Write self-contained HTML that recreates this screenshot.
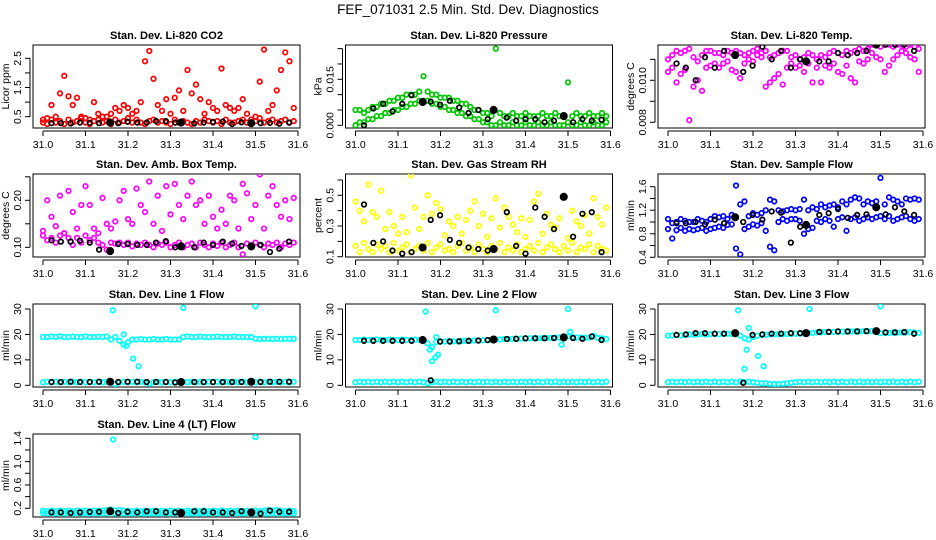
<!DOCTYPE html>
<html><head><meta charset="utf-8"><style>
html,body{margin:0;padding:0;background:#fff;}
svg{display:block;font-family:"Liberation Sans",sans-serif;}
</style></head><body>
<svg id="chart" width="936" height="540" viewBox="0 0 936 540" xmlns="http://www.w3.org/2000/svg">
<text x="468" y="14" text-anchor="middle" font-size="13.5" fill="#000">FEF_071031  2.5 Min. Std. Dev. Diagnostics</text>
</svg>
<script>
const xs=[31.00,31.01,31.02,31.03,31.04,31.05,31.06,31.07,31.08,31.09,31.10,31.11,31.12,31.13,31.14,31.15,31.16,31.17,31.18,31.19,31.20,31.21,31.22,31.23,31.24,31.25,31.26,31.27,31.28,31.29,31.30,31.31,31.32,31.33,31.34,31.35,31.36,31.37,31.38,31.39,31.40,31.41,31.42,31.43,31.44,31.45,31.46,31.47,31.48,31.49,31.50,31.51,31.52,31.53,31.54,31.55,31.56,31.57,31.58,31.59];
const bx=[31.020,31.042,31.065,31.087,31.110,31.132,31.158,31.177,31.199,31.222,31.244,31.266,31.289,31.311,31.325,31.356,31.378,31.400,31.423,31.445,31.467,31.490,31.512,31.534,31.556,31.579];
const bigIdx=[6,14,21];

const co2A=[0.3,0.25,0.4,0.3,0.35,0.25,0.4,0.3,0.35,0.45,0.3,0.25,0.35,0.4,0.3,0.35,0.25,0.4,0.3,0.35,0.45,0.3,0.4,0.3,0.25,0.35,0.4,0.3,0.35,0.3,0.25,0.4,0.3,0.35,0.3,0.25,0.35,0.3,0.4,0.35,0.3,0.35,0.25,0.4,0.3,0.3,0.35,0.4,0.3,0.25,0.35,0.45,0.3,0.35,0.4,0.3,0.35,0.4,0.3,0.35];
const co2B=[0.4,0.45,0.9,0.5,1.3,1.9,1.2,0.9,1.15,0.5,0.45,0.4,1.0,0.6,0.5,0.5,0.6,0.8,0.7,0.9,0.8,0.6,0.7,1.0,2.4,2.75,1.8,0.9,0.7,1.1,0.6,1.15,1.4,0.7,2.1,1.3,1.6,1.1,0.6,1.0,0.8,0.7,2.15,0.9,0.8,0.7,0.8,1.1,0.6,0.4,0.5,1.7,2.8,0.7,0.9,1.4,2.1,2.7,2.4,0.8];
const co2K=[0.28,0.28,0.27,0.3,0.29,0.28,0.3,0.28,0.33,0.3,0.3,0.35,0.35,0.3,0.3,0.27,0.3,0.32,0.33,0.25,0.31,0.28,0.28,0.29,0.26,0.3];

const presA=[0.000,0.001,0.001,0.002,0.002,0.003,0.003,0.004,0.004,0.005,0.005,0.006,0.006,0.007,0.007,0.008,0.008,0.008,0.007,0.007,0.006,0.006,0.005,0.005,0.004,0.004,0.003,0.003,0.002,0.002,0.001,0.001,0.000,0.000,0.001,0.000,0.000,0.001,0.000,0.000,0.001,0.000,0.000,0.001,0.000,0.000,0.001,0.000,0.000,0.000,0.001,0.000,0.000,0.001,0.000,0.000,0.001,0.000,0.000,0.001];
const presB=[0.005,0.005,0.004,0.005,0.006,0.006,0.007,0.007,0.008,0.008,0.009,0.009,0.010,0.010,0.010,0.011,0.016,0.011,0.010,0.010,0.009,0.009,0.009,0.008,0.008,0.007,0.007,0.006,0.005,0.005,0.004,0.004,0.003,0.025,0.004,0.003,0.003,0.004,0.003,0.003,0.004,0.003,0.003,0.003,0.004,0.003,0.003,0.004,0.003,0.003,0.014,0.003,0.004,0.003,0.003,0.004,0.003,0.003,0.004,0.003];
const presK=[0.000,0.0055,0.0070,0.0045,0.0070,0.0098,0.0076,0.0077,0.0067,0.0080,0.0058,0.0040,0.0050,0.0020,0.0050,0.0025,0.0015,0.0020,0.0020,0.0010,0.0015,0.0030,0.0010,0.0020,0.0015,0.0018];

const tempA=[0.0104,0.0106,0.0099,0.0103,0.0105,0.0081,0.0097,0.0100,0.0095,0.0106,0.0107,0.0108,0.0106,0.0108,0.0109,0.0105,0.0104,0.0101,0.0108,0.0110,0.0109,0.0112,0.0111,0.0097,0.0099,0.0101,0.0103,0.0098,0.0106,0.0108,0.0106,0.0107,0.0104,0.0108,0.0099,0.0106,0.0099,0.0107,0.0106,0.0108,0.0104,0.0103,0.0107,0.0101,0.0099,0.0109,0.0108,0.0110,0.0113,0.0111,0.0110,0.0104,0.0107,0.0110,0.0112,0.0114,0.0113,0.0111,0.0110,0.0104];
const tempB=[0.0110,0.0112,0.0114,0.0113,0.0114,0.0115,0.0111,0.0109,0.0112,0.0114,0.0114,0.0113,0.0113,0.0112,0.0114,0.0113,0.0114,0.0113,0.0112,0.0113,0.0114,0.0115,0.0113,0.0114,0.0111,0.0112,0.0113,0.0114,0.0114,0.0111,0.0112,0.0110,0.0111,0.0113,0.0112,0.0110,0.0112,0.0111,0.0113,0.0114,0.0113,0.0112,0.0114,0.0113,0.0114,0.0115,0.0114,0.0115,0.0117,0.0117,0.0116,0.0117,0.0117,0.0116,0.0117,0.0117,0.0116,0.0117,0.0116,0.0115];
const tempK=[0.0108,0.0106,0.0100,0.0111,0.0106,0.0114,0.0112,0.0104,0.0107,0.0116,0.0110,0.0114,0.0106,0.0110,0.0109,0.0109,0.0109,0.0113,0.0112,0.0113,0.0114,0.0117,0.0117,0.0117,0.0117,0.0114];

const ambA=[0.125,0.115,0.12,0.11,0.125,0.13,0.12,0.105,0.12,0.11,0.125,0.115,0.12,0.11,0.105,0.095,0.11,0.108,0.11,0.105,0.11,0.102,0.108,0.105,0.11,0.105,0.1,0.108,0.105,0.11,0.1,0.105,0.11,0.1,0.105,0.108,0.1,0.11,0.105,0.1,0.108,0.103,0.11,0.1,0.105,0.11,0.1,0.085,0.108,0.1,0.11,0.105,0.1,0.108,0.105,0.11,0.1,0.108,0.105,0.11];
const ambB=[0.135,0.2,0.165,0.145,0.21,0.13,0.22,0.175,0.14,0.19,0.23,0.19,0.14,0.13,0.205,0.15,0.14,0.155,0.2,0.22,0.16,0.15,0.225,0.19,0.175,0.24,0.15,0.21,0.135,0.23,0.17,0.235,0.19,0.16,0.21,0.24,0.19,0.2,0.15,0.21,0.165,0.14,0.18,0.15,0.21,0.2,0.14,0.235,0.215,0.16,0.19,0.255,0.14,0.21,0.23,0.19,0.165,0.2,0.16,0.205];
const ambK=[0.115,0.112,0.112,0.114,0.110,0.095,0.092,0.107,0.107,0.105,0.105,0.110,0.113,0.100,0.102,0.100,0.110,0.105,0.112,0.108,0.103,0.102,0.105,0.090,0.097,0.112];

const rhA=[0.17,0.13,0.19,0.15,0.13,0.18,0.15,0.17,0.13,0.19,0.14,0.16,0.18,0.13,0.15,0.17,0.14,0.19,0.13,0.16,0.18,0.14,0.15,0.13,0.17,0.19,0.14,0.16,0.13,0.18,0.15,0.13,0.17,0.15,0.19,0.13,0.16,0.14,0.18,0.13,0.15,0.17,0.14,0.19,0.13,0.16,0.18,0.15,0.13,0.17,0.14,0.19,0.13,0.16,0.15,0.18,0.13,0.17,0.15,0.14];
const rhB=[0.46,0.4,0.33,0.57,0.39,0.36,0.53,0.28,0.39,0.3,0.25,0.36,0.26,0.63,0.42,0.28,0.36,0.5,0.38,0.45,0.41,0.24,0.33,0.3,0.36,0.25,0.34,0.4,0.46,0.3,0.38,0.23,0.35,0.48,0.29,0.42,0.36,0.31,0.26,0.35,0.23,0.34,0.46,0.51,0.25,0.38,0.31,0.29,0.35,0.49,0.22,0.4,0.33,0.3,0.37,0.25,0.48,0.36,0.31,0.42];
const rhK=[0.44,0.19,0.2,0.14,0.12,0.13,0.16,0.34,0.37,0.21,0.19,0.16,0.15,0.14,0.15,0.39,0.17,0.12,0.42,0.36,0.28,0.49,0.23,0.38,0.39,0.13];

const flowA=[0.88,0.72,0.86,0.9,0.85,0.88,0.86,0.88,0.9,0.85,0.88,0.9,0.92,0.9,0.95,0.96,0.55,0.45,0.88,0.92,0.96,0.94,0.98,0.85,0.58,0.52,1.0,1.05,1.02,1.05,1.05,1.02,0.8,0.88,0.9,1.02,1.0,1.05,1.02,0.92,1.05,1.08,0.85,1.05,1.08,1.02,1.05,1.08,1.05,1.08,1.1,1.05,1.1,1.02,1.05,1.08,1.1,1.05,1.02,1.05];
const flowB=[1.05,0.98,1.0,1.05,1.02,1.0,1.0,1.05,1.02,1.0,1.05,1.1,1.08,1.1,1.05,1.12,1.62,1.3,1.35,1.1,1.15,1.12,1.15,1.2,1.38,1.35,1.2,1.18,1.2,1.22,1.2,1.22,1.38,1.2,1.25,1.22,1.3,1.25,1.28,1.3,1.25,1.35,1.3,1.38,1.42,1.4,1.3,1.35,1.32,1.35,1.75,1.3,1.42,1.38,1.35,1.3,1.4,1.38,1.4,1.38];
const flowK=[0.98,0.98,1.0,0.96,1.04,0.98,1.08,1.0,1.12,1.04,1.18,1.16,0.65,0.92,0.95,1.12,1.15,1.22,1.07,1.12,1.13,1.25,1.13,1.25,1.18,1.12];

const l1Hi=[19,19,19.2,19,19.3,19,19,19.2,19,19,19.2,19,19,19.1,19,19.2,18,19,17.5,16,17,18,18,18.2,18,18,18.2,18,18,18.2,18,18,18,19,19.2,19,19,19.2,19,19,19,19.2,19,19,19,19.2,19,19,19,19,18.3,18.2,18.3,18.3,18.2,18.3,18.2,18.3,18.3,18.3];
const l1Lo=[1.2,1.4,1.2,1.4,1.2,1.4,1.2,1.4,1.2,1.4,1.2,1.4,1.2,1.4,1.2,1.4,1.2,0.5,1.2,1.4,1.2,1.4,1.2,1.4,1.2,0.6,1.2,1.4,1.2,1.4,1.2,1.4,1.2,1.4,1.2,1.4,1.2,1.4,1.2,1.4,1.2,1.4,1.2,1.4,1.2,1.4,1.2,1.4,1.2,1.4,1.2,1.4,1.2,1.4,1.2,1.4,1.2,1.4,1.2,1.4];
const l1OutX=[31.164,31.19,31.196,31.212,31.225,31.33,31.5];
const l1OutY=[29.5,20,15.5,10.5,7.5,30.5,31];
const l1K=[1.3,1.3,1.4,1.3,1.3,1.4,1.4,1.3,1.4,1.4,1.3,1.3,1.3,1.1,1.3,1.3,1.3,1.3,1.3,1.3,1.3,1.4,1.3,1.4,1.4,1.4];

const l2Hi=[17.8,17.8,18,17.8,17.8,18,17.8,17.8,18,17.8,17.8,18,17.8,17.8,18,17.8,17.8,16.5,15,17,17.2,17.2,17.4,17.3,17.3,17.4,17.5,17.5,17.6,17.6,17.7,17.7,17.9,18,18,18.2,18.2,18.3,18.3,18.4,18.4,18.5,18.5,18.5,18.6,18.6,18.7,18.8,18.8,19,19.2,19,18.8,18.8,18.7,18.8,19.5,18.6,18.5,18.2];
const l2Lo=[1.2,1.4,1.2,1.4,1.2,1.4,1.2,1.4,1.2,1.4,1.2,1.4,1.2,1.4,1.2,1.4,1.2,0.8,1.2,1.4,1.2,1.4,1.2,1.4,1.2,1.4,1.2,1.4,1.2,1.4,1.2,1.4,1.2,1.4,1.2,1.4,1.2,1.4,1.2,1.4,1.2,1.4,1.2,1.4,1.2,1.4,1.2,1.4,1.2,1.4,1.2,1.4,1.2,1.4,1.2,1.4,1.2,1.4,1.2,1.4];
const l2OutX=[31.165,31.175,31.18,31.188,31.194,31.19,31.33,31.5,31.505,31.485];
const l2OutY=[29,14,9.5,11,12,19,29.5,30,21,16];
const l2K=[17.5,17.5,17.5,17.5,17.5,17.5,17.8,2,17.2,17.2,17.3,17.5,17.6,17.8,18,18.2,18.3,18.5,18.5,18.5,18.6,18.8,18.6,18.3,19.2,17.8];

const l3Hi=[19.5,19.6,19.8,19.6,19.8,20,19.9,20,20.2,20,20.1,20.2,20.1,20.2,20.3,20.2,20.4,19.5,18.5,18,19,19.5,19.8,19.9,20,20,20.1,20.1,20.2,20.2,20.3,20.3,20.4,20.5,20.6,20.8,20.8,20.9,21,21,21,21.1,21.1,21.2,21.2,21.2,21.3,21.3,21.3,21.4,20.5,20.6,20.6,20.7,20.7,20.8,20.8,20.9,20.8,20.6];
const l3Lo=[1.2,1.4,1.2,1.4,1.2,1.4,1.2,1.4,1.2,1.4,1.2,1.4,1.2,1.4,1.2,1.4,1.2,1.5,1.2,1.4,1.2,1.0,0.8,0.8,0.6,0.5,0.5,0.6,0.8,1.0,1.2,1.4,1.2,1.4,1.2,1.4,1.2,1.4,1.2,1.4,1.2,1.4,1.2,1.4,1.2,1.4,1.2,1.4,1.2,1.4,1.2,1.4,1.2,1.4,1.2,1.4,1.2,1.4,1.2,1.4];
const l3OutX=[31.165,31.19,31.185,31.18,31.212,31.225,31.333,31.5];
const l3OutY=[29.5,22.5,14,6.5,11.5,7.5,30,31];
const l3K=[19.8,20.0,20.5,20.5,20.3,20.3,20.5,1,19.8,20,20.3,20.3,20.5,20.5,20.5,21,21,21.2,21.2,21.2,21.3,21.3,20.8,20.8,20.9,20.3];

const ltA=[0.12,0.11,0.12,0.11,0.12,0.11,0.12,0.11,0.12,0.11,0.12,0.11,0.12,0.11,0.12,0.11,0.13,0.11,0.12,0.11,0.12,0.11,0.12,0.11,0.12,0.11,0.12,0.11,0.12,0.11,0.12,0.11,0.12,0.11,0.12,0.11,0.12,0.11,0.12,0.11,0.12,0.11,0.12,0.11,0.12,0.11,0.12,0.11,0.12,0.11,0.12,0.11,0.12,0.11,0.12,0.11,0.12,0.11,0.12,0.11];
const ltB=[0.16,0.15,0.16,0.15,0.16,0.15,0.16,0.15,0.16,0.15,0.16,0.15,0.16,0.16,0.16,0.17,0.18,0.16,0.17,0.16,0.16,0.15,0.16,0.15,0.16,0.15,0.16,0.15,0.16,0.15,0.16,0.15,0.16,0.15,0.16,0.15,0.16,0.15,0.16,0.15,0.16,0.15,0.16,0.15,0.16,0.15,0.16,0.15,0.16,0.15,0.16,0.15,0.16,0.17,0.16,0.17,0.16,0.15,0.16,0.15];
const ltOutX=[31.165,31.5];
const ltOutY=[1.38,1.42];
const ltK=[0.13,0.13,0.12,0.13,0.14,0.14,0.15,0.12,0.14,0.13,0.15,0.15,0.13,0.13,0.12,0.15,0.15,0.13,0.13,0.12,0.15,0.13,0.11,0.16,0.14,0.14];

const xTicks=[31.0,31.1,31.2,31.3,31.4,31.5,31.6];
const xTickLabels=["31.0","31.1","31.2","31.3","31.4","31.5","31.6"];

const svg=document.getElementById('chart');
const NS='http://www.w3.org/2000/svg';
function mk(tag,attrs,parent){const e=document.createElementNS(NS,tag);for(const k in attrs)e.setAttribute(k,attrs[k]);(parent||svg).appendChild(e);return e;}

const panels=[
 {key:'co2',title:'Stan. Dev. Li-820 CO2',ylab:'Licor ppm',col:0,row:0,color:'#ff0000',r:[0.5,116.7,2.5,58.3],ticks:[0.5,1,1.5,2,2.5],labs:{0.5:'0.5',1.5:'1.5',2.5:'2.5'},series:[[xs,co2A],[xs,co2B]],k:co2K},
 {key:'pressure',title:'Stan. Dev. Li-820 Pressure',ylab:'kPa',col:1,row:0,color:'#00c800',r:[0,125.3,0.015,79.3],ticks:[0,0.005,0.01,0.015,0.02,0.025],labs:{0:'0.000',0.015:'0.015'},series:[[xs,presA],[xs,presB]],k:presK},
 {key:'temp',title:'Stan. Dev. Li-820 Temp.',ylab:'degrees C',col:2,row:0,color:'#ff00ff',r:[0.010,80.3,0.008,122.3],ticks:[0.008,0.009,0.010,0.011],labs:{0.008:'0.008',0.01:'0.010'},series:[[xs,tempA],[xs,tempB]],k:tempK},
 {key:'amb',title:'Stan. Dev. Amb. Box Temp.',ylab:'degrees C',col:0,row:1,color:'#ff00ff',r:[0.10,247.3,0.20,200.3],ticks:[0.10,0.15,0.20,0.25],labs:{0.1:'0.10',0.2:'0.20'},series:[[xs,ambA],[xs,ambB]],k:ambK},
 {key:'rh',title:'Stan. Dev. Gas Stream RH',ylab:'percent',col:1,row:1,color:'#ffff00',r:[0.1,256.7,0.5,195.3],ticks:[0.1,0.2,0.3,0.4,0.5,0.6],labs:{0.1:'0.1',0.3:'0.3',0.5:'0.5'},series:[[xs,rhA],[xs,rhB]],k:rhK},
 {key:'sample',title:'Stan. Dev. Sample Flow',ylab:'ml/min',col:2,row:1,color:'#0000ff',r:[0.4,257.3,1.6,186.7],ticks:[0.4,0.6,0.8,1.0,1.2,1.4,1.6],labs:{0.4:'0.4',0.8:'0.8',1.2:'1.2',1.6:'1.6'},series:[[xs,flowA],[xs,flowB]],k:flowK},
 {key:'line1',title:'Stan. Dev. Line 1 Flow',ylab:'ml/min',col:0,row:2,color:'#00ffff',r:[0,385.3,30,309],ticks:[0,10,20,30],labs:{0:'0',10:'10',20:'20',30:'30'},series:[[xs,l1Hi],[xs,l1Lo],[l1OutX,l1OutY]],k:l1K},
 {key:'line2',title:'Stan. Dev. Line 2 Flow',ylab:'ml/min',col:1,row:2,color:'#00ffff',r:[0,385.3,30,309],ticks:[0,10,20,30],labs:{0:'0',10:'10',20:'20',30:'30'},series:[[xs,l2Hi],[xs,l2Lo],[l2OutX,l2OutY]],k:l2K},
 {key:'line3',title:'Stan. Dev. Line 3 Flow',ylab:'ml/min',col:2,row:2,color:'#00ffff',r:[0,385.3,30,309],ticks:[0,10,20,30],labs:{0:'0',10:'10',20:'20',30:'30'},series:[[xs,l3Hi],[xs,l3Lo],[l3OutX,l3OutY]],k:l3K},
 {key:'line4',title:'Stan. Dev. Line 4 (LT) Flow',ylab:'ml/min',col:0,row:3,color:'#00ffff',r:[0.2,508.3,1.4,438.3],ticks:[0.2,0.4,0.6,0.8,1.0,1.2,1.4],labs:{0.2:'0.2',0.6:'0.6',1:'1.0',1.4:'1.4'},series:[[xs,ltA],[xs,ltB],[ltOutX,ltOutY]],k:ltK}
];
const rowTop=[45,174,304,434];
const BH=83, BW=267;

panels.forEach(p=>{
  const L=33+312.5*p.col, T=rowTop[p.row], B=T+BH;
  const xScale=v=>L+10+(v-31)*425;
  const yScale=v=>p.r[1]+(v-p.r[0])*(p.r[3]-p.r[1])/(p.r[2]-p.r[0]);
  const g=mk('g',{});
  
  
  const cp=mk('clipPath',{id:'clip-'+p.key},g);
  mk('rect',{x:L,y:T,width:BW,height:BH},cp);
  const t=mk('text',{x:L+BW/2,y:T-6,'text-anchor':'middle','font-size':'11','font-weight':'bold'},g);
  t.textContent=p.title;
  
  
  const yl=mk('text',{x:L-24,y:T+BH/2,'text-anchor':'middle','font-size':'10.5',transform:`rotate(-90 ${L-24} ${T+BH/2})`},g);
  yl.textContent=p.ylab;
  
  
  const yt=p.ticks.map(yScale);
  const ya=mk('g',{},g);
  
  
  mk('line',{x1:L-3,x2:L-3,y1:Math.min(...yt),y2:Math.max(...yt),stroke:'#000','stroke-width':1},ya);
  p.ticks.forEach(v=>{
    const y=yScale(v);
    mk('line',{x1:L-8,x2:L-3,y1:y,y2:y,stroke:'#000','stroke-width':1},ya);
    const key=Object.keys(p.labs).find(k=>Math.abs(parseFloat(k)-v)<1e-9);
    if(key!==undefined){
      const tx=mk('text',{x:L-12,y:y,'text-anchor':'middle','font-size':'10.5',transform:`rotate(-90 ${L-12} ${y})`},ya);
      tx.textContent=p.labs[key];
      
      
    }
  });
  const xa=mk('g',{},g);
  
  
  mk('line',{x1:xScale(31.0),x2:xScale(31.6),y1:B+3,y2:B+3,stroke:'#000','stroke-width':1},xa);
  xTicks.forEach((v,i)=>{
    const x=xScale(v);
    mk('line',{x1:x,x2:x,y1:B+3,y2:B+8,stroke:'#000','stroke-width':1},xa);
    const tx=mk('text',{x:x,y:B+20,'text-anchor':'middle','font-size':'10.5'},xa);
    tx.textContent=xTickLabels[i];
    
    
  });
  const bxr=mk('rect',{x:L,y:T,width:BW,height:BH,fill:'none',stroke:'#000','stroke-width':1},g);
  
  
  const pts=mk('g',{'clip-path':`url(#clip-${p.key})`},g);
  
  
  p.series.forEach(([sx,sy])=>{
    sy.forEach((v,i)=>{
      const c=mk('circle',{cx:xScale(sx[i]),cy:yScale(v),r:2.3,fill:'none',stroke:p.color,'stroke-width':1.7},pts);
      
      
    });
  });
  p.k.forEach((v,i)=>{
    const big=bigIdx.includes(i);
    const c=mk('circle',{cx:xScale(bx[i]),cy:yScale(v),r:big?3.2:2.3,fill:big?'#000':'none',stroke:'#000','stroke-width':1.7},pts);
    
    
  });
});
</script>
</body></html>
